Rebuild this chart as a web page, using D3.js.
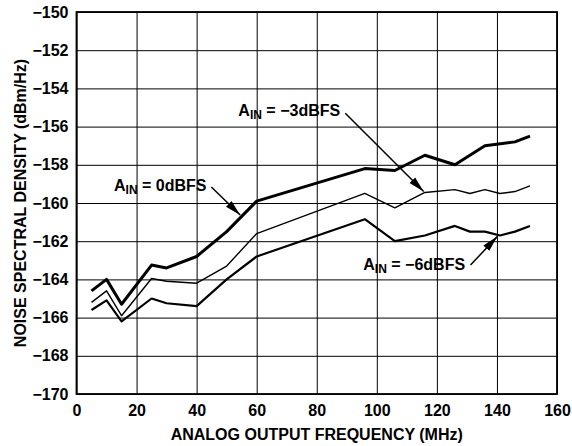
<!DOCTYPE html>
<html>
<head>
<meta charset="utf-8">
<script src="https://cdn.jsdelivr.net/npm/d3@7"></script>
<style>
  body { margin: 0; background: #fff; }
  svg text { font-family: "Liberation Sans", Arial, sans-serif; font-weight: bold; fill: #000; }
</style>
</head>
<body>
<div id="chart"></div>
<script>
const margin = { t: 12, r: 15, b: 52, l: 76.5 };
const W = 572, H = 446;

// axis ticks
const xTicks = [0, 20, 40, 60, 80, 100, 120, 140, 160];
const yTicks = [-150, -152, -154, -156, -158, -160, -162, -164, -166, -168, -170];

// A_IN = 0dBFS
const freq0 = [5, 10, 15, 25, 30, 40, 50, 60, 96, 106, 116, 126, 136, 146, 151];
const nsd0 = [-164.6, -164.0, -165.3, -163.25, -163.4, -162.8, -161.5, -159.9, -158.2, -158.3, -157.5, -158.0, -157.0, -156.8, -156.5];

// A_IN = -3dBFS
const freq3 = [5, 10, 15, 25, 30, 40, 50, 60, 96, 106, 116, 126, 131, 136, 141, 146, 151];
const nsd3 = [-165.2, -164.6, -165.9, -163.95, -164.1, -164.2, -163.3, -161.6, -159.5, -160.25, -159.45, -159.3, -159.5, -159.3, -159.5, -159.4, -159.1];

// A_IN = -6dBFS
const freq6 = [5, 10, 15, 25, 30, 40, 50, 60, 96, 106, 116, 126, 131, 136, 141, 146, 151];
const nsd6 = [-165.6, -165.1, -166.2, -165.0, -165.25, -165.4, -164.0, -162.8, -160.85, -162.0, -161.7, -161.2, -161.5, -161.5, -161.7, -161.5, -161.2];

// labels: text anchor, arrow start, arrow tip (MHz, dB)
const labelLevel = ["0dBFS", "\u22123dBFS", "\u22126dBFS"];
const labelAt = [[12.5, -159.37], [87.8, -155.45], [95.5, -163.5]];
const labelAnchor = ["start", "end", "start"];
const arrowFrom = [[44.9, -159.16], [89.5, -155.3], [131.2, -163.25]];
const arrowTo = [[54.5, -160.63], [115.6, -159.4], [140.1, -161.76]];

var w = W - margin.l - margin.r;
var h = 394 - margin.t;

var scale = {
  x: d3.scaleLinear().domain([0, 160]).range([0, w]),
  y: d3.scaleLinear().domain([-170, -150]).range([h, 0]),
};

const svg = d3.select("#chart").append("svg")
  .attr("width", W).attr("height", H);

svg.append("defs").append("marker")
  .attr("id", "head")
  .attr("viewBox", "0 0 16 9")
  .attr("refX", 16).attr("refY", 4.5)
  .attr("markerWidth", 16).attr("markerHeight", 9)
  .attr("markerUnits", "userSpaceOnUse")
  .attr("orient", "auto")
  .append("path").attr("d", "M0,0.5 L16,4.5 L0,8.5 Z").attr("fill", "#000");

const g = svg.append("g").attr("transform", "translate(" + margin.l + "," + margin.t + ")");

// grid + tick labels
const fmt = d3.format("d");
g.append("g")
  .attr("class", "x axis")
  .attr("transform", "translate(0," + h + ")")
  .call(d3.axisBottom(scale.x).tickValues(xTicks).tickSize(-h).tickPadding(11).tickFormat(fmt))
  .call(a => a.select(".domain").remove());

g.append("g")
  .attr("class", "y axis")
  .call(d3.axisLeft(scale.y).tickValues(yTicks).tickSize(-w).tickPadding(8).tickFormat(fmt))
  .call(a => a.select(".domain").remove());

g.selectAll(".axis line").attr("stroke", "#000").attr("stroke-width", 1);
g.selectAll(".axis text").style("font-size", "16px").attr("fill", "#000");

g.append("rect")
  .attr("width", w).attr("height", h)
  .attr("fill", "none").attr("stroke", "#000").attr("stroke-width", 1.8);

// series
const line = d3.line().x(d => scale.x(d[0])).y(d => scale.y(d[1]));
const series = [
  { f: freq0, v: nsd0, sw: 3 },
  { f: freq3, v: nsd3, sw: 1.4 },
  { f: freq6, v: nsd6, sw: 2.2 },
];
series.forEach(s => {
  g.append("path")
    .datum(s.f.map((f, i) => [f, s.v[i]]))
    .attr("d", line)
    .attr("fill", "none")
    .attr("stroke", "#000")
    .attr("stroke-width", s.sw)
    .attr("stroke-linejoin", "round");
});

// annotations
labelLevel.forEach((lv, i) => {
  g.append("line")
    .attr("x1", scale.x(arrowFrom[i][0])).attr("y1", scale.y(arrowFrom[i][1]))
    .attr("x2", scale.x(arrowTo[i][0])).attr("y2", scale.y(arrowTo[i][1]))
    .attr("stroke", "#000").attr("stroke-width", 1.5)
    .attr("marker-end", "url(#head)");

  const t = g.append("text")
    .attr("x", scale.x(labelAt[i][0]))
    .attr("y", scale.y(labelAt[i][1]))
    .attr("text-anchor", labelAnchor[i])
    .style("font-size", "16px");
  t.append("tspan").text("A");
  t.append("tspan").attr("dy", 3).style("font-size", "12px").text("IN");
  t.append("tspan").attr("dy", -3).text(" = " + lv);
});

// axis titles
svg.append("text")
  .attr("x", margin.l + w / 2).attr("y", 440)
  .attr("text-anchor", "middle")
  .style("font-size", "16px")
  .text("ANALOG OUTPUT FREQUENCY (MHz)");

svg.append("text")
  .attr("transform", "translate(26," + (margin.t + h / 2) + ") rotate(-90)")
  .attr("text-anchor", "middle")
  .style("font-size", "16px")
  .text("NOISE SPECTRAL DENSITY (dBm/Hz)");
</script>
</body>
</html>
